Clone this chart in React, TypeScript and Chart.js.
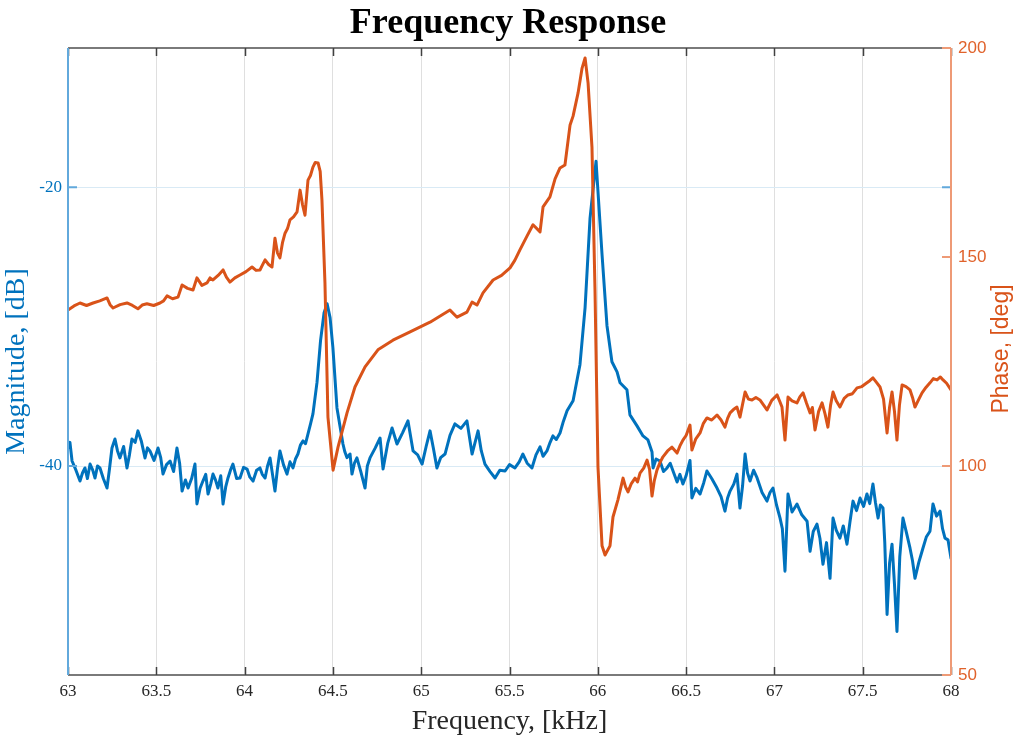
import React, { useEffect, useRef } from "react";
import { Chart, registerables } from "chart.js";

Chart.register(...registerables);

const title = "Frequency Response";
const xLabel = "Frequency, [kHz]";
const leftLabel = "Magnitude, [dB]";
const rightLabel = "Phase, [deg]";

const xTicks = [63, 63.5, 64, 64.5, 65, 65.5, 66, 66.5, 67, 67.5, 68];
const magTicks = [-40, -20];
const phaseTicks = [50, 100, 150, 200];

const magFreq = [
  63.0, 63.011, 63.023, 63.045, 63.068, 63.082, 63.096, 63.11, 63.125, 63.14,
  63.153, 63.167, 63.181, 63.2, 63.221, 63.235, 63.249, 63.266, 63.28, 63.294,
  63.315, 63.334, 63.348, 63.362, 63.38, 63.396, 63.415, 63.436, 63.45, 63.464,
  63.487, 63.51, 63.525, 63.538, 63.558, 63.578, 63.598, 63.617, 63.632, 63.646,
  63.665, 63.68, 63.7, 63.719, 63.73, 63.748, 63.764, 63.78, 63.793, 63.808,
  63.821, 63.835, 63.849, 63.865, 63.878, 63.893, 63.906, 63.92, 63.934, 63.955,
  63.974, 63.994, 64.014, 64.03, 64.048, 64.068, 64.087, 64.1, 64.116, 64.13,
  64.144, 64.158, 64.172, 64.186, 64.2, 64.22, 64.24, 64.257, 64.274, 64.288,
  64.302, 64.316, 64.331, 64.345, 64.359, 64.373, 64.387, 64.41, 64.43, 64.45,
  64.467, 64.484, 64.5, 64.523, 64.557, 64.568, 64.58, 64.597, 64.608, 64.622,
  64.636, 64.658, 64.682, 64.695, 64.71, 64.74, 64.767, 64.784, 64.81, 64.835,
  64.863, 64.895, 64.925, 64.954, 64.98, 65.005, 65.028, 65.05, 65.07, 65.089,
  65.11, 65.135, 65.163, 65.191, 65.225, 65.259, 65.288, 65.322, 65.34, 65.361,
  65.39, 65.418, 65.445, 65.475, 65.5, 65.531, 65.555, 65.576, 65.6, 65.627,
  65.65, 65.673, 65.69, 65.712, 65.73, 65.746, 65.765, 65.786, 65.805, 65.826,
  65.86, 65.899, 65.928, 65.956, 65.99, 66.024, 66.052, 66.08, 66.109, 66.126,
  66.165, 66.182, 66.222, 66.256, 66.284, 66.307, 66.313, 66.33, 66.352, 66.372,
  66.392, 66.41, 66.426, 66.449, 66.465, 66.482, 66.5, 66.522, 66.533, 66.555,
  66.579, 66.6, 66.618, 66.645, 66.675, 66.698, 66.72, 66.735, 66.749, 66.77,
  66.788, 66.805, 66.82, 66.834, 66.848, 66.862, 66.882, 66.902, 66.93, 66.958,
  66.975, 66.992, 67.012, 67.032, 67.045, 67.06, 67.077, 67.1, 67.128, 67.155,
  67.185, 67.202, 67.22, 67.241, 67.258, 67.275, 67.295, 67.315, 67.332, 67.35,
  67.371, 67.39, 67.411, 67.428, 67.445, 67.465, 67.485, 67.505, 67.524, 67.54,
  67.558, 67.572, 67.587, 67.6, 67.615, 67.625, 67.638, 67.652, 67.666, 67.68,
  67.694, 67.71, 67.728, 67.748, 67.768, 67.782, 67.796, 67.818, 67.841, 67.86,
  67.881, 67.898, 67.918, 67.938, 67.952, 67.966, 67.983, 68.0,
];
const magDb = [
  -38.71, -38.3, -39.64, -40.3, -41.08, -40.5, -40.14, -40.9, -39.86, -40.3,
  -40.86, -40.0, -40.14, -40.9, -41.58, -40.2, -38.71, -38.06, -38.9, -39.42,
  -38.6, -40.14, -39.2, -38.06, -38.3, -37.48, -38.2, -39.42, -38.7, -38.92,
  -39.6, -38.71, -39.4, -40.58, -39.9, -39.64, -40.4, -38.71, -39.8, -41.8,
  -41.0, -41.58, -40.9, -39.86, -42.73, -41.6, -41.08, -40.6, -42.01, -41.3,
  -40.58, -41.0, -41.58, -40.7, -42.73, -41.5, -40.86, -40.3, -39.86, -40.9,
  -40.86, -40.1, -40.22, -40.8, -41.08, -40.3, -40.14, -40.6, -40.86, -40.0,
  -39.42, -40.6, -41.8, -40.2, -38.92, -39.9, -40.58, -39.7, -40.14, -39.5,
  -39.14, -38.5, -38.2, -38.4, -37.7, -37.0, -36.26, -34.0, -31.0, -29.0,
  -28.35, -29.35, -31.5, -35.83, -38.42, -39.0, -39.4, -39.14, -40.58, -39.8,
  -39.42, -40.4, -41.58, -40.0, -39.42, -38.7, -37.99, -40.22, -38.4, -37.27,
  -38.42, -37.6, -36.76, -38.92, -39.2, -39.86, -38.6, -37.48, -38.8, -40.14,
  -39.4, -39.14, -37.8, -36.98, -37.3, -36.76, -39.14, -37.48, -38.9, -39.86,
  -40.4, -40.86, -40.3, -40.36, -39.9, -40.14, -39.7, -39.14, -39.8, -40.14,
  -39.2, -38.63, -39.3, -38.92, -38.3, -37.84, -38.1, -37.63, -36.8, -36.04,
  -35.32, -32.73, -28.63, -22.23, -18.13, -24.82, -29.93, -32.52, -33.24, -34.03,
  -34.53, -36.33, -37.12, -37.84, -38.13, -39.0, -40.14, -39.5, -39.64, -40.4,
  -40.14, -39.8, -40.36, -41.15, -40.6, -41.29, -40.7, -39.6, -42.3, -41.6,
  -42.01, -41.2, -40.36, -40.9, -41.58, -42.2, -43.24, -42.3, -41.8, -41.3,
  -40.58, -43.02, -41.4, -39.14, -40.5, -41.08, -40.3, -40.86, -41.9, -42.52,
  -41.9, -41.58, -42.8, -43.74, -44.5, -47.55, -42.01, -43.3, -42.73, -43.5,
  -43.96, -46.12, -44.7, -44.17, -45.2, -47.05, -45.5, -48.06, -43.74, -44.6,
  -45.18, -44.3, -45.61, -44.0, -42.52, -43.2, -42.3, -42.9, -42.01, -42.7,
  -41.29, -42.6, -43.74, -42.8, -43.02, -45.5, -50.65, -47.0, -45.61, -48.5,
  -51.87, -46.5, -43.74, -44.8, -45.9, -46.8, -48.06, -46.9, -45.9, -45.1,
  -44.68, -42.73, -43.6, -43.24, -44.5, -45.18, -45.3, -46.62,
];

const phaseFreq = [
  63.0, 63.034, 63.068, 63.105, 63.142, 63.18, 63.221, 63.238, 63.255, 63.295,
  63.334, 63.365, 63.396, 63.42, 63.447, 63.485, 63.521, 63.541, 63.561, 63.592,
  63.623, 63.646, 63.677, 63.708, 63.73, 63.758, 63.787, 63.804, 63.821, 63.85,
  63.878, 63.897, 63.917, 63.945, 63.974, 64.008, 64.042, 64.065, 64.087, 64.1,
  64.116, 64.136, 64.155, 64.172, 64.186, 64.2, 64.215, 64.229, 64.243, 64.257,
  64.277, 64.297, 64.314, 64.328, 64.342, 64.359, 64.373, 64.387, 64.4, 64.416,
  64.428, 64.438, 64.455, 64.472, 64.501, 64.529, 64.58, 64.625, 64.682, 64.755,
  64.84, 64.937, 65.05, 65.163, 65.203, 65.259, 65.288, 65.316, 65.35, 65.407,
  65.455, 65.503, 65.53, 65.559, 65.599, 65.633, 65.673, 65.69, 65.729, 65.758,
  65.786, 65.814, 65.843, 65.86, 65.888, 65.911, 65.928, 65.945, 65.967, 65.984,
  66.001, 66.024, 66.041, 66.069, 66.086, 66.114, 66.143, 66.157, 66.171, 66.19,
  66.211, 66.225, 66.239, 66.26, 66.279, 66.293, 66.307, 66.32, 66.335, 66.352,
  66.369, 66.395, 66.42, 66.449, 66.465, 66.482, 66.5, 66.522, 66.533, 66.555,
  66.579, 66.598, 66.618, 66.645, 66.675, 66.698, 66.72, 66.735, 66.749, 66.768,
  66.788, 66.805, 66.82, 66.834, 66.853, 66.873, 66.895, 66.918, 66.938, 66.958,
  66.985, 67.015, 67.03, 67.043, 67.06, 67.077, 67.1, 67.128, 67.145, 67.162,
  67.182, 67.202, 67.215, 67.23, 67.25, 67.27, 67.287, 67.303, 67.318, 67.332,
  67.35, 67.371, 67.395, 67.417, 67.442, 67.468, 67.495, 67.524, 67.54, 67.558,
  67.578, 67.598, 67.618, 67.638, 67.652, 67.666, 67.68, 67.694, 67.708, 67.723,
  67.745, 67.768, 67.782, 67.796, 67.816, 67.836, 67.858, 67.881, 67.9, 67.921,
  67.94, 67.955, 67.975, 68.0,
];
const phaseDeg = [
  137.3, 138.3, 139.0, 138.4, 139.0, 139.5, 140.2, 138.6, 137.8, 138.6,
  139.0, 138.4, 137.6, 138.5, 138.8, 138.4, 139.0, 139.5, 140.7, 140.0,
  140.4, 143.3, 142.5, 142.1, 145.0, 143.2, 143.8, 145.0, 144.5, 145.6,
  146.9, 145.2, 144.0, 145.0, 145.7, 146.5, 147.6, 146.8, 146.9, 148.0,
  149.3, 148.2, 147.6, 154.5, 151.0, 149.8, 153.5, 155.7, 156.8, 158.9,
  159.6, 160.8, 166.0, 162.5, 160.0, 168.4, 169.5, 171.5, 172.6, 172.5,
  170.5, 163.6, 143.8, 111.7, 99.0, 104.5, 112.7, 118.9, 123.7, 127.8,
  130.1, 132.1, 134.4, 137.3, 135.6, 136.8, 139.2, 138.5, 141.4, 144.5,
  145.6, 147.4, 149.2, 151.7, 155.0, 157.7, 156.0, 162.0, 164.4, 168.7,
  171.3, 172.0, 181.6, 183.7, 189.2, 195.2, 197.6, 191.6, 176.3, 142.3,
  99.8, 80.9, 78.7, 80.9, 87.8, 91.9, 97.1, 95.0, 93.8, 95.8,
  97.1, 96.2, 98.3, 99.5, 101.4, 99.2, 92.8, 96.5, 99.0, 100.8,
  102.2, 103.6, 104.5, 103.1, 104.8, 106.2, 107.3, 109.8, 103.8, 106.5,
  107.9, 110.2, 111.5, 111.0, 112.2, 111.0, 109.3, 111.4, 112.7, 113.5,
  114.1, 111.7, 114.8, 117.7, 116.0, 115.8, 116.4, 115.8, 114.6, 113.4,
  115.7, 117.0, 115.5, 114.1, 106.2, 116.5, 115.6, 115.1, 116.6, 117.5,
  115.0, 112.7, 114.0, 108.6, 113.0, 115.1, 112.4, 109.3, 114.5, 117.7,
  115.6, 114.1, 116.2, 117.0, 117.3, 118.7, 119.0, 119.9, 120.4, 121.1,
  120.0, 118.9, 116.0, 107.9, 114.0, 117.7, 113.0, 106.2, 114.5, 119.4,
  119.0, 118.2, 116.4, 114.1, 115.8, 117.5, 118.8, 119.9, 120.9, 120.6,
  121.3, 120.6, 119.8, 118.2,
];

const BLUE = "#0072BD";
const ORANGE = "#D95319";
const SERIF = '"Liberation Serif", "Times New Roman", serif';
const SANS = '"Liberation Sans", Arial, sans-serif';

const framePlugin = {
  id: "matlabFrame",
  afterDraw(chart: any) {
    const { ctx, chartArea } = chart;
    const { left, right, top, bottom } = chartArea;
    const xs = chart.scales.x;
    const ys = chart.scales.y;
    const y1 = chart.scales.y1;
    ctx.save();
    ctx.strokeStyle = "#7a7a7a";
    ctx.lineWidth = 2;
    ctx.beginPath();
    ctx.moveTo(left, top);
    ctx.lineTo(right, top);
    ctx.moveTo(left, bottom);
    ctx.lineTo(right, bottom);
    ctx.stroke();
    ctx.strokeStyle = "#404040";
    ctx.lineWidth = 1.5;
    ctx.beginPath();
    xTicks.forEach((v) => {
      const px = Math.round(xs.getPixelForValue(v)) + 0.5;
      ctx.moveTo(px, bottom);
      ctx.lineTo(px, bottom - 8);
      ctx.moveTo(px, top);
      ctx.lineTo(px, top + 8);
    });
    ctx.stroke();
    ctx.strokeStyle = "#62a9dc";
    ctx.lineWidth = 2;
    ctx.beginPath();
    ctx.moveTo(left, top);
    ctx.lineTo(left, bottom);
    ctx.stroke();
    ctx.beginPath();
    magTicks.forEach((v) => {
      const py = ys.getPixelForValue(v);
      ctx.moveTo(left, py);
      ctx.lineTo(left + 9, py);
      ctx.moveTo(right, py);
      ctx.lineTo(right - 9, py);
    });
    ctx.stroke();
    ctx.strokeStyle = "#ee9a76";
    ctx.beginPath();
    ctx.moveTo(right, top);
    ctx.lineTo(right, bottom);
    ctx.stroke();
    ctx.beginPath();
    phaseTicks.forEach((v) => {
      const py = y1.getPixelForValue(v);
      ctx.moveTo(right, py);
      ctx.lineTo(right - 9, py);
    });
    ctx.stroke();
    ctx.translate(1002, 349);
    ctx.rotate(-Math.PI / 2);
    ctx.fillStyle = ORANGE;
    ctx.font = `23px ${SANS}`;
    ctx.textAlign = "center";
    ctx.textBaseline = "middle";
    ctx.fillText(rightLabel, 0, 0);
    ctx.restore();
  },
};

export default function App() {
  const ref = useRef<HTMLCanvasElement>(null);
  useEffect(() => {
    if (!ref.current) return;
    const chart = new Chart(ref.current, {
      type: "line",
      data: {
        datasets: [
          {
            label: "Phase",
            data: phaseFreq.map((f, i) => ({ x: f, y: phaseDeg[i] })),
            yAxisID: "y1",
            borderColor: ORANGE,
            borderWidth: 3,
            pointRadius: 0,
            tension: 0,
            borderJoinStyle: "round",
            borderCapStyle: "round",
            order: 0,
          },
          {
            label: "Magnitude",
            data: magFreq.map((f, i) => ({ x: f, y: magDb[i] })),
            yAxisID: "y",
            borderColor: BLUE,
            borderWidth: 3,
            pointRadius: 0,
            tension: 0,
            borderJoinStyle: "round",
            borderCapStyle: "round",
            order: 1,
          },
        ],
      },
      options: {
        responsive: false,
        animation: false,
        layout: { padding: 0 },
        plugins: {
          legend: { display: false },
          tooltip: { enabled: false },
          title: {
            display: true,
            text: title,
            color: "#000",
            font: { family: SERIF, size: 36, weight: "bold" },
            padding: { top: 2, bottom: 2.8 },
          },
        },
        scales: {
          x: {
            type: "linear",
            min: 63,
            max: 68,
            afterBuildTicks: (s: any) => {
              s.ticks = xTicks.map((v) => ({ value: v }));
            },
            ticks: {
              color: "#262626",
              font: { family: SERIF, size: 17 },
              padding: 6,
              maxRotation: 0,
              autoSkip: false,
              callback: (v: any) => String(Number(v)),
            },
            grid: { color: "#dfdfdf", drawTicks: false, lineWidth: 1 },
            border: { display: false },
            title: {
              display: true,
              text: xLabel,
              color: "#262626",
              font: { family: SERIF, size: 28 },
              padding: { top: 0, bottom: 4 },
            },
            afterFit: (s: any) => {
              s.height = 67;
            },
          },
          y: {
            position: "left",
            min: -55,
            max: -10,
            afterBuildTicks: (s: any) => {
              s.ticks = magTicks.map((v) => ({ value: v }));
            },
            ticks: {
              color: BLUE,
              font: { family: SERIF, size: 17 },
              padding: 6,
            },
            grid: { color: "#d9eaf5", drawTicks: false, lineWidth: 1 },
            border: { display: false },
            title: {
              display: true,
              text: leftLabel,
              color: BLUE,
              font: { family: SERIF, size: 28 },
              padding: { top: 0, bottom: 0 },
            },
            afterFit: (s: any) => {
              s.width = 68;
            },
          },
          y1: {
            position: "right",
            min: 50,
            max: 200,
            afterBuildTicks: (s: any) => {
              s.ticks = phaseTicks.map((v) => ({ value: v }));
            },
            ticks: {
              color: "#e0622b",
              font: { family: SANS, size: 17 },
              padding: 7,
            },
            grid: { display: false, drawTicks: false },
            border: { display: false },
            afterFit: (s: any) => {
              s.width = 65;
            },
          },
        },
      },
      plugins: [framePlugin],
    });
    return () => chart.destroy();
  }, []);
  return (
    <div style={{ position: "absolute", left: 0, top: 0, width: 1016, height: 742, background: "#fff" }}>
      <canvas ref={ref} width={1016} height={742} />
    </div>
  );
}
